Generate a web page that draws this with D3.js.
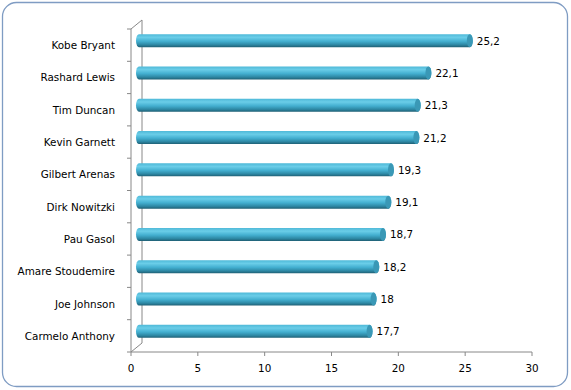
<!DOCTYPE html>
<html>
<head>
<meta charset="utf-8">
<script src="https://cdn.jsdelivr.net/npm/d3@7"></script>
<style>
  body { margin: 0; background: #fff; }
  text { font-family: "DejaVu Sans", Verdana, sans-serif; font-size: 10.4px; fill: #000; }
</style>
</head>
<body>
<div id="chart"></div>
<script>
var players = ["Kobe Bryant", "Rashard Lewis", "Tim Duncan", "Kevin Garnett", "Gilbert Arenas",
               "Dirk Nowitzki", "Pau Gasol", "Amare Stoudemire", "Joe Johnson", "Carmelo Anthony"];
var points = [25.2, 22.1, 21.3, 21.2, 19.3, 19.1, 18.7, 18.2, 18, 17.7];
var xTicks = [0, 5, 10, 15, 20, 25, 30];

var width = 571, height = 390;
var depthX = 11, depthY = -9; // 3d wall offset

var svg = d3.select("#chart").append("svg")
    .attr("width", width)
    .attr("height", height);

// outer frame
svg.append("rect")
    .attr("x", 2.5).attr("y", 2.5)
    .attr("width", 565).attr("height", 384)
    .attr("rx", 14).attr("ry", 14)
    .attr("fill", "#fff")
    .attr("stroke", "#7f9cc3")
    .attr("stroke-width", 1.3);

var x = d3.scaleLinear().domain([0, 30]).range([131, 532]);
var y = d3.scaleBand().domain(players).range([29, 352]).padding(0);

// gradient for the cylinders
var defs = svg.append("defs");
var grad = defs.append("linearGradient")
    .attr("id", "barGrad")
    .attr("x1", 0).attr("y1", 0).attr("x2", 0).attr("y2", 1);
grad.append("stop").attr("offset", "0%").attr("stop-color", "#4fb9d8");
grad.append("stop").attr("offset", "25%").attr("stop-color", "#6acde8");
grad.append("stop").attr("offset", "55%").attr("stop-color", "#43afd0");
grad.append("stop").attr("offset", "82%").attr("stop-color", "#2d87a3");
grad.append("stop").attr("offset", "100%").attr("stop-color", "#1f5f74");

var axisColor = "#888";
var x0 = x(0), yTop = y.range()[0], yBot = y.range()[1];

// walls
var walls = svg.append("g").attr("stroke", axisColor).attr("fill", "none").attr("stroke-width", 1);
walls.append("line").attr("x1", x0).attr("y1", yTop).attr("x2", x0).attr("y2", yBot);
walls.append("line").attr("x1", x0).attr("y1", yTop).attr("x2", x0 + depthX).attr("y2", yTop + depthY);
walls.append("line").attr("x1", x0 + depthX).attr("y1", yTop + depthY).attr("x2", x0 + depthX).attr("y2", yBot + depthY);
walls.append("line").attr("x1", x0).attr("y1", yBot).attr("x2", x0 + depthX).attr("y2", yBot + depthY);
walls.append("line").attr("x1", x0).attr("y1", yBot).attr("x2", x(30)).attr("y2", yBot);

// category ticks on the left
var bounds = players.map(function(d) { return y(d); }).concat([yBot]);
walls.selectAll(".ytick").data(bounds).enter().append("line")
    .attr("x1", x0 - 4).attr("x2", x0)
    .attr("y1", function(d) { return d; }).attr("y2", function(d) { return d; });

// value ticks on the bottom
walls.selectAll(".xtick").data(xTicks).enter().append("line")
    .attr("x1", function(d) { return x(d); }).attr("x2", function(d) { return x(d); })
    .attr("y1", yBot).attr("y2", yBot + 4);

svg.selectAll(".xlabel").data(xTicks).enter().append("text")
    .attr("x", function(d) { return x(d); })
    .attr("y", yBot + 20)
    .attr("text-anchor", "middle")
    .text(function(d) { return d; });

svg.selectAll(".ylabel").data(players).enter().append("text")
    .attr("x", 115)
    .attr("y", function(d) { return y(d) + y.bandwidth() / 2 + 4; })
    .attr("text-anchor", "end")
    .text(function(d) { return d; });

// bars as cylinders
var barH = 13, capR = 3;
var bars = svg.selectAll(".bar").data(players).enter().append("g");

bars.append("rect")
    .attr("x", function(d) { return x(0) + 5; })
    .attr("y", function(d) { return y(d) + y.bandwidth() / 2 - 4.5 - barH / 2; })
    .attr("width", function(d, i) { return x(points[i]) - x(0); })
    .attr("height", barH)
    .attr("rx", capR).attr("ry", barH / 2)
    .attr("fill", "url(#barGrad)");

bars.append("ellipse")
    .attr("cx", function(d, i) { return x(points[i]) + 5 - capR; })
    .attr("cy", function(d) { return y(d) + y.bandwidth() / 2 - 4.5; })
    .attr("rx", capR).attr("ry", barH / 2)
    .attr("fill", "#3a98b6");

svg.selectAll(".vlabel").data(players).enter().append("text")
    .attr("x", function(d, i) { return x(points[i]) + 9; })
    .attr("y", function(d) { return y(d) + y.bandwidth() / 2 - 4.5 + 4; })
    .text(function(d, i) { return String(points[i]).replace(".", ","); });
</script>
</body>
</html>
